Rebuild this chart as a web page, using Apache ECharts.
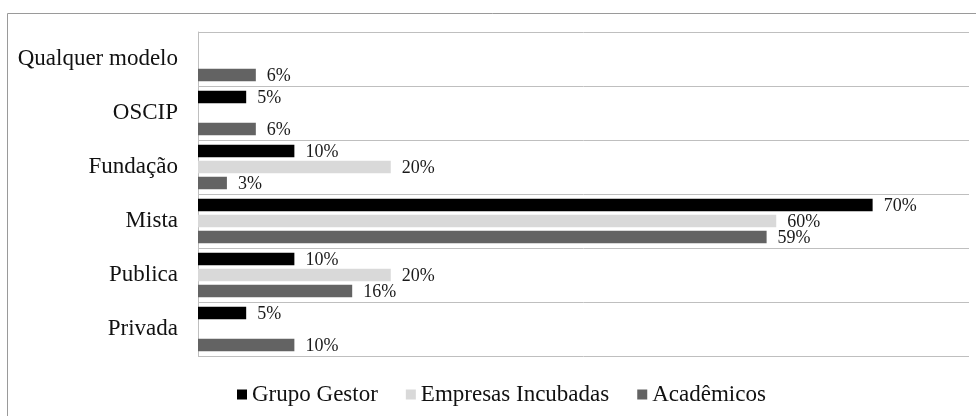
<!DOCTYPE html>
<html>
<head>
<meta charset="utf-8">
<script src="https://cdn.jsdelivr.net/npm/echarts@6/dist/echarts.min.js"></script>
<style>
  html, body { margin: 0; padding: 0; background: #fff; }
  #chart { width: 976px; height: 416px; }
</style>
</head>
<body>
<div id="chart"></div>
<script>
// Modelos de gestão (categorias, de cima para baixo)
const categories = ['Qualquer modelo', 'OSCIP', 'Fundação', 'Mista', 'Publica', 'Privada'];
// Percentuais por grupo de respondentes ('-' = sem resposta)
const grupoGestor = ['-', 5, 10, 70, 10, 5];
const empresasIncubadas = ['-', '-', 20, 60, 20, '-'];
const academicos = [6, 6, 3, 59, 16, 10];
const seriesNames = ['Grupo Gestor', 'Empresas Incubadas', 'Acadêmicos'];
const seriesColors = ['#000000', '#d9d9d9', '#636363'];

const FONT = '"Liberation Serif", "Times New Roman", serif';
const chart = echarts.init(document.getElementById('chart'));

function makeSeries(name, data, color) {
  return {
    name: name,
    type: 'bar',
    data: data,
    barWidth: 12.5,
    barGap: '28%',
    itemStyle: { color: color },
    label: {
      show: true,
      position: 'right',
      distance: 11,
      offset: [0, 1],
      formatter: '{c}%',
      fontFamily: FONT,
      fontSize: 18,
      color: '#1a1a1a'
    }
  };
}

chart.setOption({
  animation: false,
  graphic: [{
    type: 'rect',
    shape: { x: 7.5, y: 13.5, width: 1000, height: 500 },
    style: { fill: 'none', stroke: '#9a9a9a', lineWidth: 1 },
    silent: true
  }],
  grid: { left: 198, right: 7, top: 32, bottom: 60, containLabel: false },
  legend: {
    left: 232,
    top: 378,
    icon: 'rect',
    itemWidth: 10,
    itemHeight: 10,
    itemGap: 28,
    textStyle: { fontFamily: FONT, fontSize: 23, color: '#111' },
    data: seriesNames
  },
  xAxis: {
    type: 'value',
    min: 0,
    max: 80,
    show: false,
    splitLine: { show: false }
  },
  yAxis: {
    type: 'category',
    inverse: true,
    data: categories,
    axisLine: { show: true, lineStyle: { color: '#bfbfbf', width: 1 } },
    axisTick: { show: false },
    splitLine: { show: true, lineStyle: { color: '#bfbfbf', width: 1 } },
    axisLabel: { margin: 20, fontFamily: FONT, fontSize: 23, color: '#111' }
  },
  series: [
    makeSeries(seriesNames[0], grupoGestor, seriesColors[0]),
    makeSeries(seriesNames[1], empresasIncubadas, seriesColors[1]),
    makeSeries(seriesNames[2], academicos, seriesColors[2])
  ]
});
</script>
</body>
</html>
